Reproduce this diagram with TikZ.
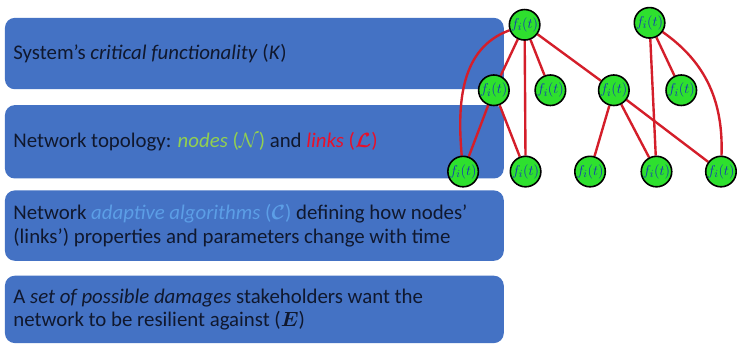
\documentclass[tikz,border=0pt]{standalone}
\usepackage{fontspec}
\usepackage{bm}
\setmainfont{Carlito}
\pgfdeclarelayer{panels}
\pgfdeclarelayer{links}
\pgfsetlayers{panels,links,main}
\begin{document}
\definecolor{boxblue}{HTML}{4472C4}
\definecolor{inktext}{HTML}{10182E}
\definecolor{nodegreen}{HTML}{92D050}
\definecolor{linkred}{HTML}{E8102A}
\definecolor{algoblue}{HTML}{5C9EE6}
\definecolor{vertexfill}{HTML}{2EE02E}
\definecolor{vertexink}{HTML}{1433B8}
\definecolor{edgered}{HTML}{D41E2A}
\begin{tikzpicture}[x=1pt,y=-1pt,
  infobox/.style={fill=boxblue, draw=none, rounded corners=10pt},
  infotext/.style={anchor=west, text=inktext, font=\fontsize{21}{23.5}\selectfont, align=left},
  vertex/.style={circle, draw=black, line width=1.6pt, fill=vertexfill,
    minimum size=29pt, inner sep=0pt, text=vertexink,
    font=\fontsize{15}{15}\selectfont},
  link/.style={draw=edgered, line width=2.4pt}]
  \begin{pgfonlayer}{panels}
    \useasboundingbox (0,0) rectangle (737,347);
    \fill[white] (0,0) rectangle (737,347);
    % four description panels
    \path[infobox] (5,18) rectangle (508,90);
    \path[infobox] (5,106) rectangle (508,180);
    \path[infobox] (5,192) rectangle (508,263);
    \path[infobox] (5,278) rectangle (508,346);
  \end{pgfonlayer}

  \node[infotext] (t1) at (10,54) {System's \textit{critical functionality} (\textit{K})};
  \node[infotext] (t2) at (10,143) {Network topology: \textcolor{nodegreen}{\textit{nodes} ($\mathcal{N}$)} and \textcolor{linkred}{\textit{links} ($\bm{\mathcal{L}}$)}};
  \node[infotext] (t3) at (10,227.5) {Network \textcolor{algoblue}{\textit{adaptive algorithms} ($\bm{\mathcal{C}}$)} defining how nodes'\\(links') properties and parameters change with time};
  \node[infotext] (t4) at (10,312) {A \textit{set of possible damages} stakeholders want the\\network to be resilient against ($\bm{E}$)};

  % network vertices
  \node[vertex] (a)  at (529,25)  {$f_i(t)$};
  \node[vertex] (b)  at (655,23)  {$f_i(t)$};
  \node[vertex] (m1) at (498,91)  {$f_i(t)$};
  \node[vertex] (m2) at (555,91)  {$f_i(t)$};
  \node[vertex] (m3) at (619,91)  {$f_i(t)$};
  \node[vertex] (m4) at (687,91)  {$f_i(t)$};
  \node[vertex] (b1) at (467,173) {$f_i(t)$};
  \node[vertex] (b2) at (530,173) {$f_i(t)$};
  \node[vertex] (b3) at (595,173) {$f_i(t)$};
  \node[vertex] (b4) at (662,173) {$f_i(t)$};
  \node[vertex] (b5) at (727,173) {$f_i(t)$};

  % links, kept under the vertices
  \begin{pgfonlayer}{links}
    \path[link] (a) -- (m1);
    \path[link] (a) -- (m2);
    \path[link] (a) -- (m3);
    \path[link] (a) -- (b2);
    \path[link] (a) to[out=200,in=95] (b1);
    \path[link] (m1) -- (b1);
    \path[link] (m1) -- (b2);
    \path[link] (m3) -- (b3);
    \path[link] (m3) -- (b4);
    \path[link] (m3) -- (b5);
    \path[link] (b) -- (m4);
    \path[link] (b) -- (b4);
    \path[link] (b) to[out=-35,in=88] (b5);
  \end{pgfonlayer}
\end{tikzpicture}
\end{document}
